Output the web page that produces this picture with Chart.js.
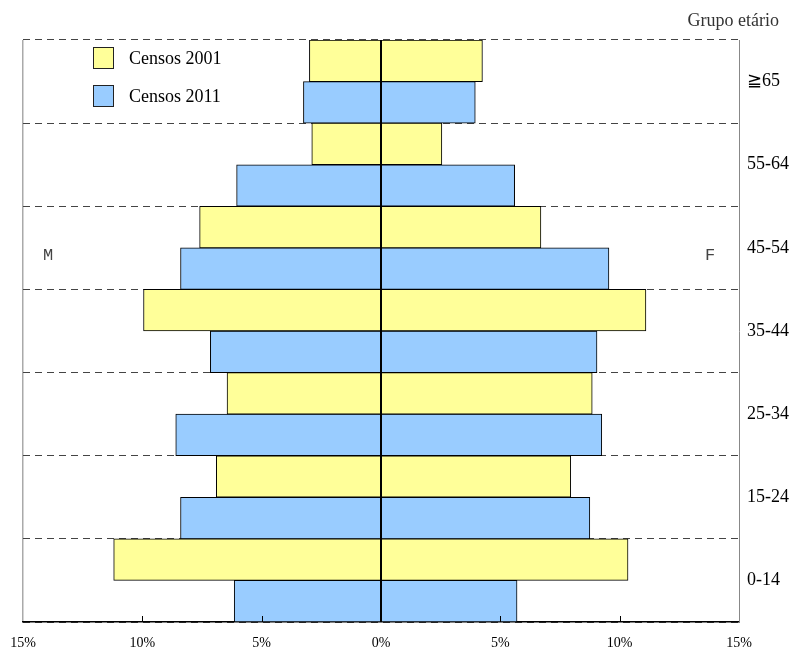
<!DOCTYPE html>
<html>
<head>
<meta charset="utf-8">
<script src="https://cdn.jsdelivr.net/npm/chart.js@4/dist/chart.umd.min.js"></script>
<style>
  html, body { margin: 0; padding: 0; background: #fff; }
  #wrap { width: 793px; height: 651px; }
</style>
</head>
<body>
<div id="wrap"><canvas id="c" width="793" height="651"></canvas></div>
<script>
const categories = ['≧65', '55-64', '45-54', '35-44', '25-34', '15-24', '0-14'];
const male2001   = [3.0, 2.9, 7.6, 9.95, 6.45, 6.9, 11.2];
const female2001 = [4.25, 2.55, 6.7, 11.1, 8.85, 7.95, 10.35];
const male2011   = [3.25, 6.05, 8.4, 7.15, 8.6, 8.4, 6.15];
const female2011 = [3.95, 5.6, 9.55, 9.05, 9.25, 8.75, 5.7];
const xTicks = [-15, -10, -5, 0, 5, 10, 15];
const seriesNames = ['Censos 2001', 'Censos 2011'];
const axisTitle = 'Grupo etário';
const sideLabels = ['M', 'F'];

const YELLOW = '#FFFF99';
const BLUE = '#99CCFF';
const SERIF = '"Liberation Serif", "Times New Roman", serif';

function bar(label, data, color, stack) {
  return {
    label, data, backgroundColor: color, borderColor: '#000', borderWidth: 1,
    borderSkipped: 'start', stack, categoryPercentage: 1.0, barPercentage: 1.0
  };
}

const decor = {
  id: 'decor',
  afterDatasetsDraw(chart) {
    const ctx = chart.ctx;
    const xs = chart.scales.x;
    const ca = chart.chartArea;
    ctx.save();
    // crisp zero line where the bars meet
    const zx = Math.round(xs.getPixelForValue(0));
    ctx.fillStyle = '#000';
    ctx.fillRect(zx - 1, Math.round(ca.top), 2, Math.round(ca.bottom - ca.top));
    ctx.strokeStyle = '#000';
    ctx.lineWidth = 1;
    xTicks.forEach(v => {
      if (v === -15 || v === 15 || v === 0) return;
      const px = Math.round(xs.getPixelForValue(v)) + 0.5;
      ctx.beginPath();
      ctx.moveTo(px, ca.bottom);
      ctx.lineTo(px, ca.bottom - 6);
      ctx.stroke();
    });
    ctx.restore();
  },
  afterDraw(chart) {
    const ctx = chart.ctx;
    const ca = chart.chartArea;
    ctx.save();
    const cols = [YELLOW, BLUE];
    seriesNames.forEach((name, i) => {
      const y = ca.top + 7 + i * 38;
      ctx.fillStyle = cols[i];
      ctx.fillRect(ca.left + 70.5, y + 0.5, 20, 21);
      ctx.strokeStyle = '#222';
      ctx.lineWidth = 1;
      ctx.strokeRect(ca.left + 70.5, y + 0.5, 20, 21);
      ctx.fillStyle = '#000';
      ctx.font = '18px ' + SERIF;
      ctx.textBaseline = 'middle';
      ctx.textAlign = 'left';
      ctx.fillText(name, ca.left + 106, y + 12);
    });
    ctx.fillStyle = '#333';
    ctx.font = '18px ' + SERIF;
    ctx.textAlign = 'right';
    ctx.textBaseline = 'middle';
    ctx.fillText(axisTitle, 779, 21);
    ctx.fillStyle = '#444';
    ctx.font = '17px "Liberation Mono", "DejaVu Sans Mono", monospace';
    ctx.textAlign = 'center';
    ctx.fillText(sideLabels[0], 48, 255);
    ctx.fillText(sideLabels[1], 710, 255);
    ctx.restore();
  }
};

new Chart(document.getElementById('c'), {
  type: 'bar',
  data: {
    labels: categories,
    datasets: [
      bar(seriesNames[0], male2001.map(v => -v), YELLOW, '2001'),
      bar(seriesNames[0], female2001, YELLOW, '2001'),
      bar(seriesNames[1], male2011.map(v => -v), BLUE, '2011'),
      bar(seriesNames[1], female2011, BLUE, '2011')
    ]
  },
  options: {
    indexAxis: 'y',
    responsive: false,
    animation: false,
    layout: { padding: { left: 23, top: 40, right: 0, bottom: 0 } },
    plugins: { legend: { display: false }, tooltip: { enabled: false }, title: { display: false } },
    scales: {
      x: {
        stacked: true,
        min: -15, max: 15,
        afterBuildTicks(scale) { scale.ticks = xTicks.map(v => ({ value: v })); },
        afterFit(scale) { scale.height = 29; scale.paddingLeft = 0; scale.paddingRight = 0; },
        ticks: {
          callback: v => Math.abs(v) + '%',
          color: '#000',
          font: { family: SERIF, size: 14 },
          padding: 13,
          maxRotation: 0,
          autoSkip: false
        },
        grid: {
          drawTicks: false,
          color: c => (c.tick && c.tick.value === -15) ? '#aaaaaa' : 'rgba(0,0,0,0)',
          lineWidth: 1.5
        },
        border: { display: true, color: '#000', width: 1.5 }
      },
      y: {
        position: 'right',
        offset: true,
        afterFit(scale) { scale.width = 54; },
        ticks: {
          color: '#000',
          font: { family: SERIF, size: 18 },
          padding: 8,
          crossAlign: 'near'
        },
        grid: {
          offset: true,
          drawTicks: false,
          color: '#444',
          lineWidth: 1
        },
        border: { display: true, color: '#888', width: 1, dash: [7, 5] }
      }
    }
  },
  plugins: [decor]
});
</script>
</body>
</html>
